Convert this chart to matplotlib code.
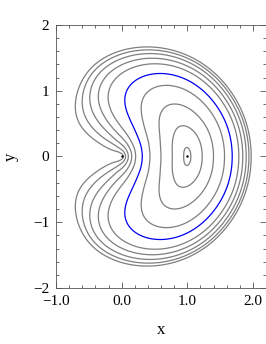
import numpy as np
import matplotlib
matplotlib.use("Agg")
import matplotlib.pyplot as plt
from matplotlib.ticker import MultipleLocator

# ---- data ----
# each closed curve crosses the x axis at 1 +/- offset
crossing_offsets = [0.055, 0.228, 0.40, 0.568, 0.685, 0.786, 0.846, 0.898, 0.94, 0.974]
highlight_index = 4            # the blue curve
marked_x = [0.0, 1.0]          # the two black points
marked_y = [0.0, 0.0]
x_ticks = [-1.0, 0.0, 1.0, 2.0]
x_tick_labels = ["\u22121.0", "0.0", "1.0", "2.0"]
y_ticks = [-2, -1, 0, 1, 2]
y_tick_labels = ["\u22122", "\u22121", "0", "1", "2"]
x_label = "x"
y_label = "y"

# shape coefficients of the level function
amp, k_r = 0.648, 1.3

def sig(t):
    return 1.0 / (1.0 + np.exp(-t))

def level_function(X, Y):
    r = np.hypot(X, Y)
    th = np.abs(np.arctan2(Y, X))
    L = amp * np.tanh(k_r * r)
    B = 0.91 + 0.09 * sig((th - 1.98) / 0.12) + 0.10 * sig((th - 2.70) / 0.08)
    M = (1.0 - 0.45 * np.exp(-th ** 2 / 0.08)
             - 0.08 * np.exp(-((th - 0.7) / 0.4) ** 2))
    return (r - 1.0) ** 2 + (1.0 - np.cos(th)) * B * M * L

plt.rcParams["font.family"] = ["Liberation Serif", "DejaVu Serif"]
fig = plt.figure(figsize=(2.66, 3.44), dpi=100)
ax = fig.add_axes([56/266, 56/344, 210/266, 263/344])

xs = np.linspace(-1.0, 2.2, 1000)
ys = np.linspace(-2.0, 2.0, 1250)
X, Y = np.meshgrid(xs, ys)
H = level_function(X, Y)

levels = [d**2 for d in crossing_offsets]
colors = ["#0000ee" if i == highlight_index else "#7f7f7f" for i in range(len(levels))]
ax.contour(X, Y, H, levels=levels, colors=colors, linewidths=0.9)

ax.scatter(marked_x, marked_y, s=3, color="black", zorder=5, linewidths=0)

ax.set_xlim(-1.0, 2.2)
ax.set_ylim(-2.0, 2.0)
ax.set_aspect("auto")
ax.set_xticks(x_ticks)
ax.set_xticklabels(x_tick_labels)
ax.set_yticks(y_ticks)
ax.set_yticklabels(y_tick_labels)
ax.xaxis.set_minor_locator(MultipleLocator(0.2))
ax.yaxis.set_minor_locator(MultipleLocator(0.2))
ax.tick_params(which="both", direction="in", top=True, right=True,
               color="#555555", labelsize=11, width=0.6)
ax.tick_params(which="major", length=4, pad=5)
ax.tick_params(which="minor", length=2)
for s in ax.spines.values():
    s.set_color("#555555")
    s.set_linewidth(0.6)
ax.set_xlabel(x_label, fontsize=12, labelpad=10)
ax.set_ylabel(y_label, fontsize=12, labelpad=10)

fig.savefig("out.png", dpi=100)
